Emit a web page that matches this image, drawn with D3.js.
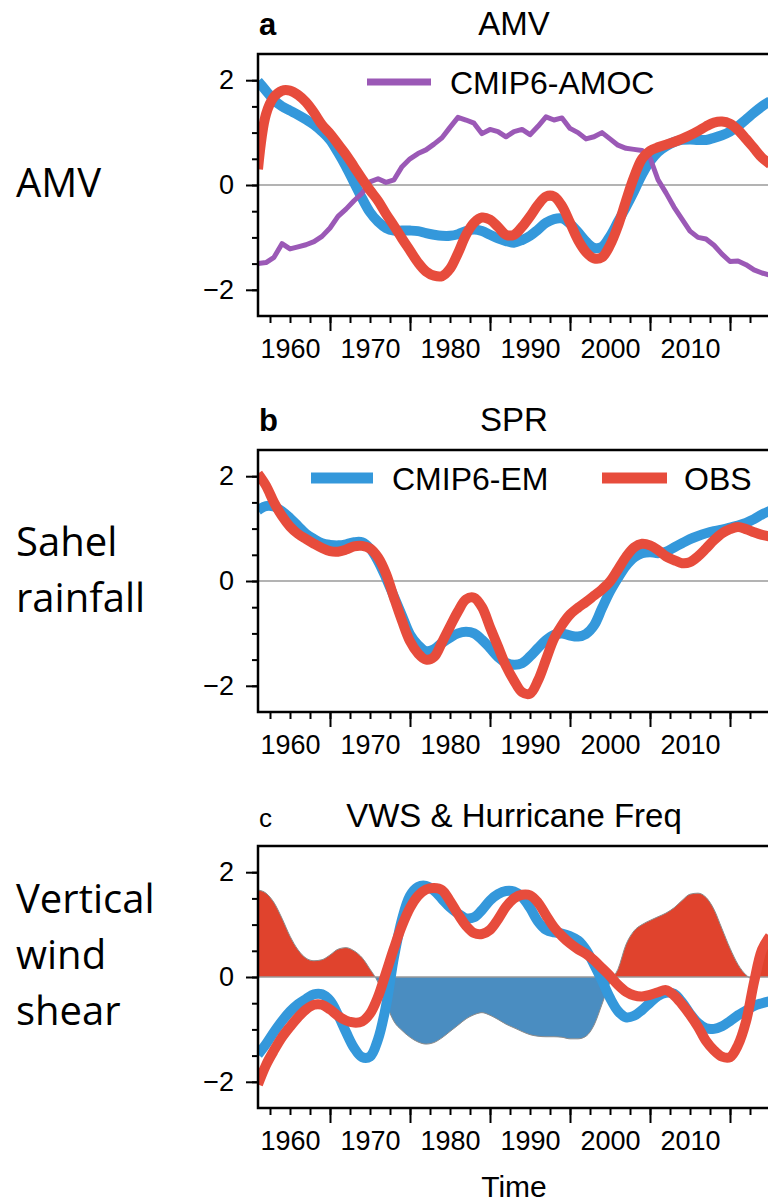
<!DOCTYPE html>
<html>
<head>
<meta charset="utf-8">
<script src="https://cdn.jsdelivr.net/npm/d3@7"></script>
<style>
  body { margin: 0; background: #fff; }
  svg { display: block; }
</style>
</head>
<body>
<svg id="fig" width="768" height="1202"></svg>
<script>
// ---- data: annual values, 1956-2020 ----
const firstYear = 1956, lastYear = 2020;
const years = d3.range(firstYear, lastYear + 1);

// a: Atlantic Multidecadal Variability
const amvModel = [1.98,1.80,1.62,1.50,1.42,1.34,1.25,1.15,1.02,0.86,
  0.62,0.35,0.05,-0.25,-0.52,-0.70,-0.82,-0.87,-0.87,-0.87,
  -0.88,-0.92,-0.95,-0.97,-0.97,-0.94,-0.88,-0.85,-0.88,-0.95,
  -1.02,-1.07,-1.10,-1.05,-0.97,-0.85,-0.72,-0.65,-0.64,-0.74,
  -0.90,-1.08,-1.20,-1.18,-0.98,-0.70,-0.42,-0.12,0.20,0.45,
  0.63,0.74,0.82,0.86,0.87,0.86,0.86,0.90,0.95,1.02,
  1.12,1.25,1.38,1.50,1.60];
const amvObs = [0.30,1.35,1.68,1.80,1.80,1.72,1.58,1.38,1.15,0.98,
  0.78,0.58,0.35,0.12,-0.10,-0.30,-0.55,-0.78,-1.02,-1.25,
  -1.48,-1.65,-1.73,-1.74,-1.60,-1.30,-0.95,-0.72,-0.62,-0.66,
  -0.80,-0.95,-0.95,-0.80,-0.60,-0.38,-0.22,-0.22,-0.40,-0.72,
  -1.05,-1.28,-1.40,-1.38,-1.15,-0.78,-0.30,0.15,0.50,0.65,
  0.72,0.77,0.82,0.88,0.95,1.03,1.12,1.19,1.21,1.17,
  1.05,0.88,0.70,0.52,0.40];
const amocModel = [-1.50,-1.48,-1.38,-1.12,-1.22,-1.18,-1.14,-1.08,-0.98,-0.82,
  -0.60,-0.46,-0.30,-0.16,0.06,0.12,0.05,0.10,0.35,0.50,
  0.60,0.67,0.78,0.90,1.10,1.29,1.24,1.18,0.98,1.06,
  1.02,0.92,1.02,1.06,0.96,1.12,1.30,1.24,1.28,1.08,
  1.00,0.88,0.92,1.00,0.88,0.76,0.70,0.68,0.66,0.52,
  0.10,-0.15,-0.42,-0.65,-0.88,-1.00,-1.03,-1.15,-1.32,-1.46,
  -1.45,-1.52,-1.62,-1.68,-1.72];

// b: Sahel precipitation
const sprModel = [1.35,1.43,1.42,1.33,1.20,1.05,0.90,0.80,0.72,0.69,
  0.68,0.70,0.74,0.74,0.62,0.38,0.06,-0.30,-0.66,-1.02,
  -1.22,-1.34,-1.30,-1.18,-1.08,-1.00,-0.97,-1.00,-1.12,-1.28,
  -1.45,-1.56,-1.60,-1.57,-1.44,-1.28,-1.13,-1.03,-1.00,-1.04,
  -1.06,-1.01,-0.85,-0.52,-0.20,0.06,0.29,0.45,0.53,0.55,
  0.53,0.56,0.64,0.72,0.80,0.86,0.91,0.95,0.98,1.02,
  1.06,1.11,1.18,1.27,1.34];
const sprObs = [2.05,1.82,1.50,1.24,1.04,0.90,0.80,0.71,0.63,0.57,
  0.56,0.60,0.66,0.67,0.62,0.45,0.14,-0.32,-0.76,-1.15,
  -1.38,-1.50,-1.45,-1.17,-0.87,-0.58,-0.35,-0.32,-0.50,-0.88,
  -1.25,-1.62,-1.90,-2.12,-2.15,-1.90,-1.50,-1.10,-0.84,-0.64,
  -0.51,-0.40,-0.28,-0.16,-0.01,0.22,0.46,0.64,0.71,0.68,
  0.59,0.47,0.40,0.34,0.36,0.47,0.62,0.78,0.91,0.99,
  1.03,0.99,0.93,0.88,0.85];

// c: vertical wind shear and hurricane frequency
const vwsModel = [-1.48,-1.28,-1.05,-0.84,-0.66,-0.52,-0.42,-0.33,-0.33,-0.45,
  -0.72,-1.05,-1.35,-1.53,-1.52,-1.19,-0.55,0.38,1.10,1.55,
  1.72,1.74,1.65,1.49,1.33,1.21,1.12,1.14,1.28,1.46,
  1.58,1.64,1.63,1.53,1.32,1.06,0.90,0.85,0.83,0.78,
  0.70,0.52,0.24,-0.07,-0.40,-0.65,-0.77,-0.74,-0.63,-0.49,
  -0.36,-0.30,-0.32,-0.48,-0.70,-0.88,-0.98,-0.99,-0.94,-0.84,
  -0.73,-0.64,-0.55,-0.50,-0.46];
const vwsObs = [-2.05,-1.68,-1.40,-1.15,-0.95,-0.77,-0.62,-0.53,-0.53,-0.62,
  -0.74,-0.83,-0.87,-0.85,-0.70,-0.38,0.08,0.55,0.98,1.32,
  1.55,1.67,1.70,1.66,1.45,1.20,0.98,0.84,0.82,0.90,
  1.10,1.34,1.50,1.57,1.56,1.42,1.18,0.95,0.78,0.64,
  0.53,0.44,0.32,0.17,0.02,-0.15,-0.28,-0.35,-0.37,-0.34,
  -0.29,-0.25,-0.35,-0.52,-0.72,-0.95,-1.22,-1.40,-1.52,-1.53,
  -1.30,-0.85,-0.10,0.52,0.78];
const hurricaneFreq = [1.66,1.60,1.42,1.12,0.78,0.52,0.36,0.31,0.33,0.42,
  0.53,0.56,0.50,0.37,0.15,-0.10,-0.50,-0.85,-1.02,-1.15,
  -1.24,-1.28,-1.25,-1.16,-1.04,-0.92,-0.80,-0.72,-0.68,-0.73,
  -0.81,-0.90,-0.97,-1.04,-1.10,-1.13,-1.14,-1.14,-1.15,-1.18,
  -1.18,-1.13,-0.92,-0.52,-0.10,0.15,0.62,0.88,1.00,1.08,
  1.15,1.22,1.32,1.46,1.58,1.60,1.52,1.29,0.92,0.55,
  0.24,0.04,-0.05,0.30,0.75];

// axis ticks
const yMajorTicks = [-2, 0, 2];
const yMinorTicks = [-2, -1.5, -1, -0.5, 0, 0.5, 1, 1.5, 2];
const xLabelYears = [1960, 1970, 1980, 1990, 2000, 2010];
const xMajorTicks = [1965, 1975, 1985, 1995, 2005, 2015];
const xMinorTicks = d3.range(1957.5, 2020, 2.5);

// ---- styles ----
const C = {
  blue: "#3498db", red: "#e74c3c", purple: "#9b59b6",
  fillRed: "#e0432d", fillBlue: "#4a8dc1", zero: "#9a9a9a"
};
const tickFont = "'Liberation Sans', Arial, sans-serif";
const sideFont = "'Open Sans', 'Noto Sans', sans-serif";

const svg = d3.select("#fig");
const plotLeft = 258, plotRight = 770, plotH = 262;
const x = d3.scaleLinear().domain([firstYear, lastYear]).range([plotLeft, plotRight]);

const panels = [
  { top: 54, letter: "a", bold: true, title: "AMV", side: ["AMV"], sideY: 197,
    lines: [
      { values: amvModel, color: C.blue, width: 10, curve: d3.curveCatmullRom },
      { values: amocModel, color: C.purple, width: 5, curve: d3.curveLinear },
      { values: amvObs, color: C.red, width: 10, curve: d3.curveCatmullRom }
    ],
    legend: [{ label: "CMIP6-AMOC", color: C.purple, width: 7, x1: 367, x2: 431, tx: 450 }] },
  { top: 450, letter: "b", bold: true, title: "SPR", side: ["Sahel", "rainfall"], sideY: 556,
    lines: [
      { values: sprModel, color: C.blue, width: 10, curve: d3.curveCatmullRom },
      { values: sprObs, color: C.red, width: 10, curve: d3.curveCatmullRom }
    ],
    legend: [
      { label: "CMIP6-EM", color: C.blue, width: 11, x1: 311, x2: 373, tx: 392 },
      { label: "OBS", color: C.red, width: 11, x1: 602, x2: 667, tx: 684 }
    ] },
  { top: 846, letter: "c", bold: false, title: "VWS & Hurricane Freq",
    side: ["Vertical", "wind", "shear"], sideY: 913,
    fill: hurricaneFreq,
    lines: [
      { values: vwsModel, color: C.blue, width: 10, curve: d3.curveCatmullRom },
      { values: vwsObs, color: C.red, width: 10, curve: d3.curveCatmullRom }
    ],
    legend: [], xTitle: "Time" }
];

const defs = svg.append("defs");

panels.forEach((p, i) => {
  const y = d3.scaleLinear().domain([-2.5, 2.5]).range([p.top + plotH, p.top]);
  const g = svg.append("g");

  // clip regions: whole plot, above zero, below zero
  const cid = "clip" + i;
  defs.append("clipPath").attr("id", cid).append("rect")
    .attr("x", plotLeft).attr("y", p.top).attr("width", plotRight - plotLeft).attr("height", plotH);
  defs.append("clipPath").attr("id", cid + "pos").append("rect")
    .attr("x", plotLeft).attr("y", p.top).attr("width", plotRight - plotLeft).attr("height", y(0) - p.top);
  defs.append("clipPath").attr("id", cid + "neg").append("rect")
    .attr("x", plotLeft).attr("y", y(0)).attr("width", plotRight - plotLeft).attr("height", p.top + plotH - y(0));

  // side label
  const side = svg.append("text")
    .attr("x", 16).attr("y", p.sideY)
    .style("font-family", sideFont).style("font-size", "40px").attr("fill", "#000");
  p.side.forEach((t, k) => side.append("tspan").attr("x", 16).attr("dy", k === 0 ? 0 : 56).text(t));

  // panel letter and title
  g.append("text").attr("x", 259).attr("y", p.top - 19)
    .style("font-family", tickFont).style("font-size", p.bold ? "31px" : "26px")
    .style("font-weight", p.bold ? "bold" : "normal").text(p.letter);
  g.append("text").attr("x", (plotLeft + plotRight) / 2).attr("y", p.top - 19)
    .attr("text-anchor", "middle")
    .style("font-family", tickFont).style("font-size", "33px").text(p.title);

  // shaded series (positive red, negative blue)
  if (p.fill) {
    const data = years.map((yr, k) => [yr, p.fill[k]]);
    const area = d3.area().x(d => x(d[0])).y0(y(0)).y1(d => y(d[1])).curve(d3.curveMonotoneX);
    g.append("path").datum(data).attr("d", area).attr("fill", C.fillRed)
      .attr("clip-path", `url(#${cid}pos)`);
    g.append("path").datum(data).attr("d", area).attr("fill", C.fillBlue)
      .attr("clip-path", `url(#${cid}neg)`);
    g.append("path").datum(data)
      .attr("d", d3.line().x(d => x(d[0])).y(d => y(d[1])).curve(d3.curveMonotoneX))
      .attr("fill", "none").attr("stroke", "#8c8c8c").attr("stroke-width", 1)
      .attr("clip-path", `url(#${cid})`);
  }

  // zero reference line
  g.append("line").attr("x1", plotLeft).attr("x2", plotRight)
    .attr("y1", y(0)).attr("y2", y(0))
    .attr("stroke", C.zero).attr("stroke-width", 1.5);

  // series lines
  p.lines.forEach(s => {
    const data = years.map((yr, k) => [yr, s.values[k]]);
    g.append("path").datum(data)
      .attr("d", d3.line().x(d => x(d[0])).y(d => y(d[1])).curve(s.curve))
      .attr("fill", "none").attr("stroke", s.color).attr("stroke-width", s.width)
      .attr("stroke-linejoin", "round")
      .attr("clip-path", `url(#${cid})`);
  });

  // legend
  p.legend.forEach(l => {
    const ly = p.top + 28;
    g.append("line").attr("x1", l.x1).attr("x2", l.x2).attr("y1", ly).attr("y2", ly)
      .attr("stroke", l.color).attr("stroke-width", l.width);
    g.append("text").attr("x", l.tx).attr("y", ly).attr("dy", "0.36em")
      .style("font-family", tickFont).style("font-size", "32px").text(l.label);
  });

  // axes
  const styleAxis = a => {
    a.select(".domain").remove();
    a.selectAll("line").attr("stroke", "#000").attr("stroke-width", 2);
    a.selectAll("text").style("font-family", tickFont).style("font-size", "27px").attr("fill", "#000");
  };
  g.append("g").attr("transform", `translate(${plotLeft},0)`)
    .call(d3.axisLeft(y).tickValues(yMinorTicks).tickSize(6).tickFormat(""))
    .call(styleAxis);
  g.append("g").attr("transform", `translate(${plotLeft},0)`)
    .call(d3.axisLeft(y).tickValues(yMajorTicks).tickSize(12).tickPadding(12).tickFormat(d3.format("d")))
    .call(styleAxis);
  const bottom = p.top + plotH;
  g.append("g").attr("transform", `translate(0,${bottom})`)
    .call(d3.axisBottom(x).tickValues(xMinorTicks).tickSize(7).tickFormat(""))
    .call(styleAxis);
  g.append("g").attr("transform", `translate(0,${bottom})`)
    .call(d3.axisBottom(x).tickValues(xMajorTicks).tickSize(15).tickFormat(""))
    .call(styleAxis);
  g.append("g").attr("transform", `translate(0,${bottom})`)
    .call(d3.axisBottom(x).tickValues(xLabelYears).tickSize(0).tickPadding(23).tickFormat(d3.format("d")))
    .call(styleAxis);

  // frame
  g.append("rect").attr("x", plotLeft).attr("y", p.top)
    .attr("width", plotRight - plotLeft).attr("height", plotH)
    .attr("fill", "none").attr("stroke", "#000").attr("stroke-width", 2.5);

  if (p.xTitle) {
    g.append("text").attr("x", (plotLeft + plotRight) / 2).attr("y", 1197)
      .attr("text-anchor", "middle")
      .style("font-family", tickFont).style("font-size", "30px").text(p.xTitle);
  }
});
</script>
</body>
</html>
